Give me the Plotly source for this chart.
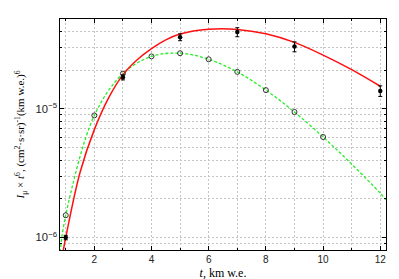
import plotly.graph_objects as go

# Measured points (filled, with error bars)
meas_x = [1, 3, 5, 7, 9, 12]
meas_y = [1.0e-6, 1.76e-5, 3.61e-5, 3.96e-5, 3.05e-5, 1.38e-5]
meas_err = [0.04e-6, 0.08e-5, 0.22e-5, 0.32e-5, 0.27e-5, 0.13e-5]

# Calculated points (open circles)
calc_x = [1, 2, 3, 4, 5, 6, 7, 8, 9, 10]
calc_y = [1.49e-6, 8.9e-6, 1.88e-5, 2.56e-5, 2.71e-5, 2.43e-5, 1.94e-5, 1.40e-5, 9.46e-6, 6.05e-6]

# Red fit curve
red_x = [0.9, 1, 1.5, 2, 2.5, 3, 3.5, 4, 4.5, 5, 6, 7, 8, 9, 10, 11, 12]
red_y = [7.6e-7, 1.0e-6, 3.2e-6, 6.9e-6, 1.22e-5, 1.84e-5, 2.41e-5, 2.94e-5, 3.44e-5,
         3.82e-5, 4.16e-5, 4.15e-5, 3.84e-5, 3.29e-5, 2.62e-5, 2.02e-5, 1.50e-5]

# Green dashed curve
green_x = [0.8, 1, 2, 3, 4, 5, 6, 7, 8, 9, 10, 11, 12, 12.2]
green_y = [7.7e-7, 1.49e-6, 8.9e-6, 1.88e-5, 2.56e-5, 2.71e-5, 2.43e-5, 1.94e-5,
           1.40e-5, 9.46e-6, 6.05e-6, 3.72e-6, 2.21e-6, 1.96e-6]

x_tickvals = [2, 4, 6, 8, 10, 12]

fig = go.Figure()
fig.add_trace(go.Scatter(x=green_x, y=green_y, mode="lines", line_shape="spline",
                         line=dict(color="#22ee22", width=1.3, dash="3px,2px"),
                         showlegend=False, hoverinfo="skip"))
fig.add_trace(go.Scatter(x=red_x, y=red_y, mode="lines", line_shape="spline",
                         line=dict(color="#ff1010", width=1.5),
                         showlegend=False, hoverinfo="skip"))
fig.add_trace(go.Scatter(x=calc_x, y=calc_y, mode="markers",
                         marker=dict(symbol="circle-open", size=5, color="#333333",
                                     line=dict(width=1)),
                         showlegend=False))
fig.add_trace(go.Scatter(x=meas_x, y=meas_y, mode="markers",
                         marker=dict(symbol="circle", size=4.5, color="black"),
                         error_y=dict(type="data", array=meas_err, color="black",
                                      thickness=1, width=2),
                         showlegend=False))

grid_style = dict(showgrid=True, gridcolor="#c4c4c4", griddash="2px,2px")
axis_common = dict(showline=True, linecolor="black", linewidth=1.2, mirror="ticks",
                   ticks="inside", tickcolor="black", ticklen=4, gridwidth=1,
                   zeroline=False, **grid_style)

fig.update_xaxes(range=[0.8, 12.2], tickvals=x_tickvals,
                 tickfont=dict(family="Liberation Sans, Arial", size=10, color="#222222"),
                 minor=dict(dtick=1, tick0=0, ticks="inside", ticklen=2, tickcolor="black", **grid_style),
                 title=dict(text="<i>t</i>, km w.e.", standoff=4,
                            font=dict(family="Liberation Serif, Times New Roman", size=12, color="black")),
                 **axis_common)
fig.update_yaxes(type="log", range=[-6.097, -4.301], dtick=1, exponentformat="power",
                 tickfont=dict(family="Liberation Sans, Arial", size=9, color="#222222"),
                 minor=dict(ticks="inside", ticklen=2, tickcolor="black", **grid_style),
                 title=dict(text="<i>I</i><sub>μ</sub> × <i>t</i><sup>6</sup>, (cm<sup>2</sup>·s·sr)<sup>-1</sup>(km w.e.)<sup>6</sup>",
                            standoff=8,
                            font=dict(family="Liberation Serif, Times New Roman", size=11, color="black")),
                 **axis_common)

fig.update_layout(width=399, height=279, autosize=False,
                  margin=dict(l=52, r=21, t=10, b=26),
                  plot_bgcolor="white", paper_bgcolor="white")

fig.write_html("out.html")
